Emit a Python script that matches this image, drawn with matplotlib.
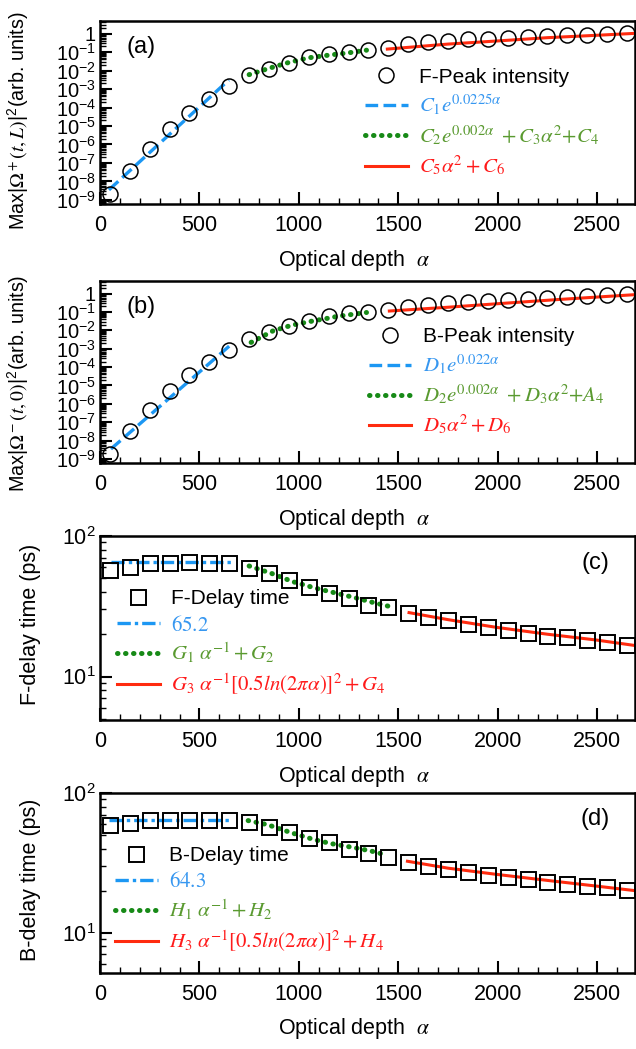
import numpy as np
import matplotlib
matplotlib.use('Agg')
import matplotlib.pyplot as plt
from matplotlib.ticker import LogLocator, FuncFormatter, MultipleLocator, NullFormatter

plt.rcParams['font.family'] = ['Liberation Sans', 'DejaVu Sans']
plt.rcParams['mathtext.fontset'] = 'stix'

# optical depth of the simulated points
alpha = np.arange(50, 2700, 100)

# (a) forward peak intensity
f_peak = [2.1e-9, 3.8e-8, 5.8e-7, 7.1e-6, 5.0e-5, 2.9e-4, 1.45e-3, 5.9e-3, 1.2e-2,
          2.6e-2, 5.1e-2, 7.6e-2, 9.5e-2, 0.126, 0.166, 0.28, 0.35, 0.42, 0.48,
          0.54, 0.60, 0.66, 0.74, 0.83, 0.89, 0.98, 1.02]
fa_blue_x = [45, 648]
fa_blue_y = [3.5e-9, 3.1e-3]
fa_green_x = [750, 850, 950, 1050, 1150, 1250, 1340]
fa_green_y = [6.0e-3, 1.32e-2, 2.75e-2, 4.9e-2, 6.8e-2, 9.1e-2, 0.126]
fa_red_x = [1445, 1750, 2000, 2250, 2500, 2685]
fa_red_y = [0.145, 0.27, 0.40, 0.60, 0.81, 1.02]

# (b) backward peak intensity
b_peak = [1.86e-9, 3.4e-8, 4.6e-7, 4.9e-6, 3.5e-5, 2.0e-4, 8.9e-4, 3.5e-3, 7.9e-3,
          1.8e-2, 3.2e-2, 6.0e-2, 8.5e-2, 0.105, 0.129, 0.195, 0.24, 0.295, 0.33,
          0.39, 0.45, 0.50, 0.55, 0.68, 0.76, 0.83, 1.0]
bb_blue_x = [55, 667]
bb_blue_y = [3.5e-9, 2.0e-3]
bb_green_x = [760, 870, 965, 1075, 1130, 1200, 1280, 1340]
bb_green_y = [2.2e-3, 9.3e-3, 1.9e-2, 3.3e-2, 4.2e-2, 5.9e-2, 7.6e-2, 9.3e-2]
bb_red_x = [1455, 1750, 2000, 2300, 2690]
bb_red_y = [0.112, 0.18, 0.28, 0.47, 0.87]

# (c) forward delay time (ps)
f_delay = [57.3, 60, 64, 64.6, 65, 64.6, 64, 58.9, 54.3, 48.7, 43.6, 39.2, 36.1,
           32.3, 31.1, 28.5, 26.7, 25.3, 23.6, 22.7, 21.5, 20.5, 19.5, 19.1, 18.2,
           17.7, 16.8]
fc_blue_x = [55, 673]
fc_blue_y = [65.2, 65.2]
fc_green_x = [750, 861, 968, 1085, 1175, 1292, 1375, 1457]
fc_green_y = [61.2, 54.3, 47.4, 42.5, 39.6, 36.1, 33.6, 31.5]
fc_red_x = [1554, 1750, 1992, 2250, 2494, 2693]
fc_red_y = [28.5, 25.4, 22.4, 20.0, 18.2, 16.6]

# (d) backward delay time (ps)
b_delay = [58.8, 61.5, 63.8, 64.5, 64.5, 64.5, 63.8, 62.1, 57.2, 52.6, 47.7, 44.3,
           39.7, 37.3, 34.9, 32.2, 29.9, 28.5, 27.3, 26.1, 24.9, 24.1, 23.1, 22.3,
           21.7, 21.1, 20.4]
bd_blue_x = [45, 660]
bd_blue_y = [64.3, 64.3]
bd_green_x = [745, 842, 960, 1077, 1161, 1276, 1362, 1412]
bd_green_y = [63.5, 59.4, 52.1, 46.4, 43.5, 40.7, 38.5, 36.9]
bd_red_x = [1546, 1750, 1992, 2250, 2494, 2693]
bd_red_y = [32.5, 29.0, 26.2, 23.7, 21.6, 20.0]

BLUE = '#1c97f3'
GREEN = '#178a17'
RED = '#ff2b0f'
TXT_COLORS = ['black', '#3797f0', '#5a9a30', '#ff1a1a']


def log_label(v, pos):
    e = int(round(np.log10(v)))
    if e == 0:
        return '1'
    return r'$\mathregular{10^{%d}}$' % e


def style(ax, ylim, ytick_size):
    ax.set_yscale('log')
    ax.set_xlim(0, 2690)
    ax.set_ylim(*ylim)
    ax.xaxis.set_major_locator(MultipleLocator(500))
    ax.xaxis.set_minor_locator(MultipleLocator(100))
    ax.yaxis.set_major_locator(LogLocator(base=10, numticks=30))
    ax.yaxis.set_minor_locator(LogLocator(base=10, subs=np.arange(2, 10), numticks=100))
    ax.yaxis.set_major_formatter(FuncFormatter(log_label))
    ax.yaxis.set_minor_formatter(NullFormatter())
    ax.tick_params(which='both', direction='in', top=False, right=False)
    ax.tick_params(which='major', length=8.5, width=1.5, pad=8)
    ax.tick_params(which='minor', length=4.5, width=1.0)
    ax.tick_params(axis='x', labelsize=15.5)
    ax.tick_params(axis='y', labelsize=ytick_size, pad=3)
    for s in ax.spines.values():
        s.set_linewidth(1.8)
    ax.set_xlabel(r'Optical depth  $\alpha$', fontsize=15.5)
    ax.xaxis.set_label_coords(0.475, -0.24)


def panel(rect, y, marker, blue, green, red, labels, blue_style, ylim, ytick_size,
          tag, tag_pos, leg_pos, ylabel, ylabel_pos, ylabel_size):
    ax = fig.add_axes(rect)
    ax.plot(alpha, y, linestyle='none', marker=marker, ms=10.8, mfc='none',
            mec='black', mew=1.1 if marker == 'o' else 1.4, zorder=3)
    ax.plot(blue[0], blue[1], color=BLUE, lw=2.4, linestyle=blue_style)
    ax.plot(green[0], green[1], color=GREEN, lw=3.6, linestyle=(0, (0.1, 1.5)),
            dash_capstyle='round')
    ax.plot(red[0], red[1], color=RED, lw=2.2)
    style(ax, ylim, ytick_size)
    leg = ax.legend(labels, loc='upper left', bbox_to_anchor=leg_pos, frameon=False,
                    fontsize=15, handlelength=2.05, handletextpad=0.55,
                    labelspacing=0.3, borderpad=0, borderaxespad=0, numpoints=1)
    for t, c in zip(leg.get_texts(), TXT_COLORS):
        t.set_color(c)
    ax.text(tag_pos[0], tag_pos[1], tag, transform=ax.transAxes, fontsize=17,
            ha=tag_pos[2], va='center')
    ax.set_ylabel(ylabel, fontsize=ylabel_size)
    ax.yaxis.set_label_coords(*ylabel_pos)
    return ax


fig = plt.figure(figsize=(6.36, 10.49), dpi=100)

panel([0.1572, 0.8055, 0.8412, 0.1745], f_peak, 'o',
      (fa_blue_x, fa_blue_y), (fa_green_x, fa_green_y), (fa_red_x, fa_red_y),
      ['F-Peak intensity', r'$C_1e^{0.0225\alpha}$',
       r'$C_2e^{0.002\alpha}\ +C_3\alpha^2{+}C_4$', r'$C_5\alpha^2+C_6$'],
      (0, (3.8, 1.6)), (6.0e-10, 4.8), 14.5, '(a)', (0.049, 0.86, 'left'),
      (0.495, 0.745), r'Max|$\Omega^+(t,L)$|$^\mathregular{2}$(arb. units)',
      (-0.128, 0.455), 14.2)

panel([0.1572, 0.5586, 0.8412, 0.1735], b_peak, 'o',
      (bb_blue_x, bb_blue_y), (bb_green_x, bb_green_y), (bb_red_x, bb_red_y),
      ['B-Peak intensity', r'$D_1e^{0.022\alpha}$',
       r'$D_2e^{0.002\alpha}\ +D_3\alpha^2{+}A_4$', r'$D_5\alpha^2+D_6$'],
      (0, (3.8, 1.6)), (6.0e-10, 4.8), 14.5, '(b)', (0.049, 0.86, 'left'),
      (0.502, 0.745), r'Max|$\Omega^-(t,0)$|$^\mathregular{2}$(arb. units)',
      (-0.128, 0.44), 14.2)

panel([0.1572, 0.3136, 0.8412, 0.1754], f_delay, 's',
      (fc_blue_x, fc_blue_y), (fc_green_x, fc_green_y), (fc_red_x, fc_red_y),
      ['F-Delay time', r'$65.2$', r'$G_1\ \alpha^{-1}+G_2$',
       r'$G_3\ \alpha^{-1}[0.5ln(2\pi\alpha)]^2+G_4$'],
      (0, (4, 1.2, 1, 1.2)), (4.9, 100), 15.5, '(c)', (0.953, 0.856, 'right'),
      (0.032, 0.71), 'F-delay time (ps)', (-0.11, 0.52), 15.5)

panel([0.1572, 0.0724, 0.8412, 0.1716], b_delay, 's',
      (bd_blue_x, bd_blue_y), (bd_green_x, bd_green_y), (bd_red_x, bd_red_y),
      ['B-Delay time', r'$64.3$', r'$H_1\ \alpha^{-1}+H_2$',
       r'$H_3\ \alpha^{-1}[0.5ln(2\pi\alpha)]^2+H_4$'],
      (0, (4, 1.2, 1, 1.2)), (5.15, 100), 15.5, '(d)', (0.953, 0.856, 'right'),
      (0.028, 0.705), 'B-delay time (ps)', (-0.11, 0.52), 15.5)

fig.savefig('out.png', dpi=100)
